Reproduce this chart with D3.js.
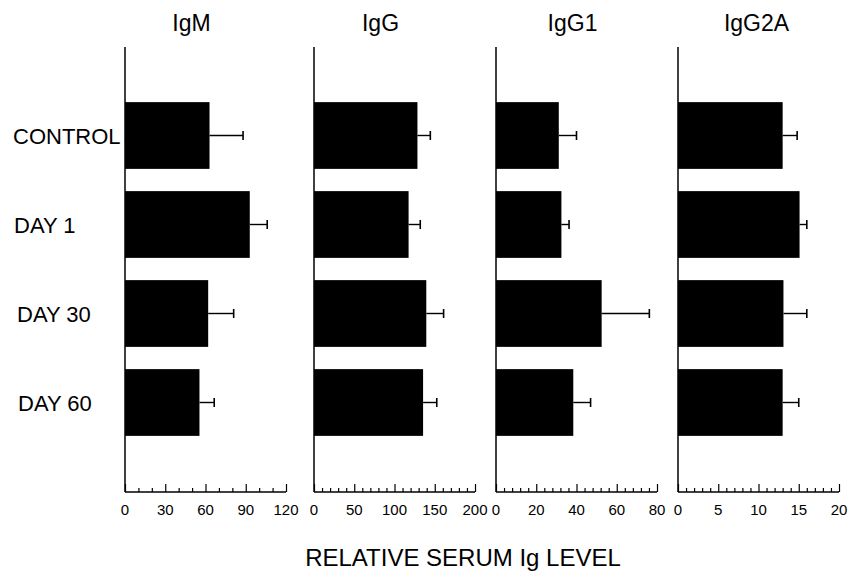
<!DOCTYPE html>
<html>
<head>
<meta charset="utf-8">
<script src="https://cdn.jsdelivr.net/npm/d3@7"></script>
<style>
  body { margin: 0; background: #fff; }
  text { font-family: "Liberation Sans", Arial, sans-serif; fill: #000; }
</style>
</head>
<body>
<script>
// data
var groups = ["CONTROL", "DAY 1", "DAY 30", "DAY 60"];
var isotypes = ["IgM", "IgG", "IgG1", "IgG2A"];
var igmMean = [63, 93, 62, 55.5];
var igmSem = [25, 13, 19, 11];
var iggMean = [128.5, 117.5, 139.5, 135.5];
var iggSem = [16, 14.5, 21.5, 17];
var igg1Mean = [31.2, 32.5, 52.5, 38.4];
var igg1Sem = [8.8, 3.8, 23.7, 8.6];
var igg2aMean = [13.0, 15.1, 13.1, 13.0];
var igg2aSem = [1.8, 0.9, 2.9, 2.0];
var axisMax = [120, 200, 80, 20];
var majorTicks = [[0, 30, 60, 90, 120], [0, 50, 100, 150, 200], [0, 20, 40, 60, 80], [0, 5, 10, 15, 20]];
var minorStep = [10, 10, 4, 1];

var means = [igmMean, iggMean, igg1Mean, igg2aMean];
var sems = [igmSem, iggSem, igg1Sem, igg2aSem];

var W = 850, H = 576;
var panelX = [125, 314, 496, 678],
    panelW = 161,
    titleShift = [-14, -14, -4, -2],
    axisTop = 47,
    axisBottom = 492;

var svg = d3.select("body").append("svg")
    .attr("width", W)
    .attr("height", H);

var y = d3.scaleBand().domain(groups).range([91, 447])
    .paddingInner(0.25).paddingOuter(0.125);

// category labels on the left
svg.selectAll(".cat")
    .data(groups)
  .enter().append("text")
    .attr("class", "cat")
    .attr("x", function(d, i) { return [13, 14, 17, 18][i]; })
    .attr("y", function(d) { return y(d) + y.bandwidth() / 2 + 8; })
    .style("font-size", "22px")
    .text(function(d) { return d; });

isotypes.forEach(function(iso, k) {
  var x = d3.scaleLinear().domain([0, axisMax[k]]).range([panelX[k], panelX[k] + panelW]);
  var g = svg.append("g");

  // title
  g.append("text")
      .attr("x", x(axisMax[k] / 2) + titleShift[k])
      .attr("y", 31)
      .attr("text-anchor", "middle")
      .style("font-size", "23px")
      .text(iso);

  // bars
  var rows = groups.map(function(d, i) { return {g: d, m: means[k][i], s: sems[k][i]}; });
  g.selectAll(".bar")
      .data(rows)
    .enter().append("rect")
      .attr("x", x(0))
      .attr("y", function(d) { return y(d.g); })
      .attr("width", function(d) { return x(d.m) - x(0); })
      .attr("height", y.bandwidth())
      .attr("fill", "#000");

  // error bars (upper only)
  var eb = g.selectAll(".err")
      .data(rows)
    .enter().append("g")
      .attr("transform", function(d) { return "translate(0," + (y(d.g) + y.bandwidth() / 2) + ")"; });
  eb.append("line")
      .attr("x1", function(d) { return x(d.m); })
      .attr("x2", function(d) { return x(d.m + d.s); })
      .attr("stroke", "#000").attr("stroke-width", 1.4);
  eb.append("line")
      .attr("x1", function(d) { return x(d.m + d.s); })
      .attr("x2", function(d) { return x(d.m + d.s); })
      .attr("y1", -4.5).attr("y2", 4.5)
      .attr("stroke", "#000").attr("stroke-width", 1.6);

  // vertical axis line
  g.append("line")
      .attr("x1", x(0)).attr("x2", x(0))
      .attr("y1", axisTop).attr("y2", axisBottom)
      .attr("stroke", "#000").attr("stroke-width", 1.5);

  // bottom axis, ticks point up
  var minor = d3.range(0, axisMax[k] + 0.001, minorStep[k]);
  var ax = g.append("g").attr("transform", "translate(0," + axisBottom + ")");
  ax.call(d3.axisTop(x).tickValues(minor).tickSize(4).tickFormat(""));
  ax.selectAll(".tick line")
      .attr("y2", function(d) { return majorTicks[k].indexOf(d) >= 0 ? -8 : -4; })
      .attr("stroke-width", 1.2);
  ax.select(".domain").attr("d", "M" + x(0) + ",0H" + x(axisMax[k])).attr("stroke-width", 1.5);

  g.selectAll(".tl")
      .data(majorTicks[k])
    .enter().append("text")
      .attr("x", function(d) { return x(d); })
      .attr("y", 515)
      .attr("text-anchor", "middle")
      .style("font-size", "15px")
      .text(function(d) { return d; });
});

svg.append("text")
    .attr("x", 463)
    .attr("y", 566)
    .attr("text-anchor", "middle")
    .style("font-size", "24px")
    .text("RELATIVE SERUM Ig LEVEL");
</script>
</body>
</html>
